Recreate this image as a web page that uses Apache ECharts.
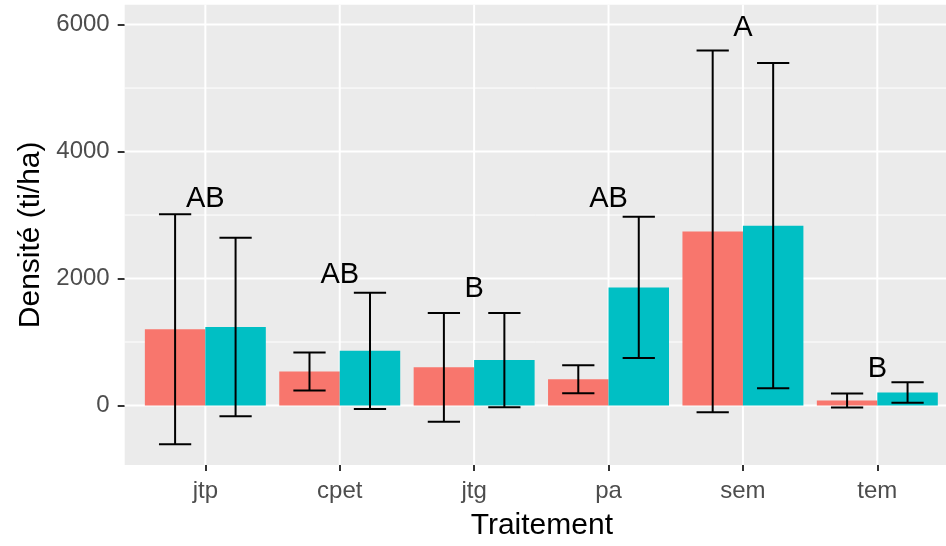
<!DOCTYPE html>
<html>
<head>
<meta charset="utf-8">
<script src="https://cdn.jsdelivr.net/npm/echarts@6/dist/echarts.min.js"></script>
<style>
  html, body { margin: 0; padding: 0; background: #ffffff; }
  #chart { width: 946px; height: 546px; }
</style>
</head>
<body>
<div id="chart"></div>
<script>
// Treatments on the x axis
const categories = ['jtp', 'cpet', 'jtg', 'pa', 'sem', 'tem'];
// First group (salmon bars): mean density and standard deviation
const meanRed = [1200, 536, 601, 414, 2742, 80];
const sdRed = [1812, 300, 855, 219, 2849, 110];
// Second group (teal bars): mean density and standard deviation
const meanTeal = [1238, 861, 715, 1860, 2833, 205];
const sdTeal = [1406, 917, 741, 1112, 2560, 160];
// Significance letters and the height at which they sit
const letters = ['AB', 'AB', 'B', 'AB', 'A', 'B'];
const letterY = [3253, 2060, 1841, 3253, 5953, 581];
// Y tick labels and grid positions
const yTicks = [0, 2000, 4000, 6000];
const yMinor = [1000, 3000, 5000];

// the panel is cut at the right edge of the page, partway through its margin
const X_MIN = -0.6, X_MAX = 5.511;
const Y_MIN = -937, Y_MAX = 6313;
const DODGE = 0.225, CAP = 0.12;
const FONT = "'Liberation Sans', Arial, Helvetica, sans-serif";
const RED = '#F8766D', TEAL = '#00BFC4';

function barRender(offset, color) {
  return function (params, api) {
    const x = api.value(0) + offset;
    const v = api.value(1);
    const a = api.coord([x - DODGE, v]);
    const b = api.coord([x + DODGE, 0]);
    return {
      type: 'rect',
      shape: { x: a[0], y: Math.min(a[1], b[1]), width: b[0] - a[0], height: Math.abs(b[1] - a[1]) },
      style: { fill: color }
    };
  };
}

function errRender(offset) {
  return function (params, api) {
    const x = api.value(0) + offset;
    const m = api.value(1), s = api.value(2);
    const top = api.coord([x, m + s]);
    const bot = api.coord([x, m - s]);
    const tl = api.coord([x - CAP, m + s]), tr = api.coord([x + CAP, m + s]);
    const bl = api.coord([x - CAP, m - s]), br = api.coord([x + CAP, m - s]);
    const st = { stroke: '#000000', lineWidth: 2 };
    return {
      type: 'group',
      children: [
        { type: 'line', shape: { x1: top[0], y1: top[1], x2: bot[0], y2: bot[1] }, style: st },
        { type: 'line', shape: { x1: tl[0], y1: tl[1], x2: tr[0], y2: tr[1] }, style: st },
        { type: 'line', shape: { x1: bl[0], y1: bl[1], x2: br[0], y2: br[1] }, style: st }
      ]
    };
  };
}

const chart = echarts.init(document.getElementById('chart'), null, { renderer: 'canvas' });

const option = {
  animation: false,
  grid: {
    left: 124.7, top: 4.7, right: 0, bottom: 77.7,
    show: true, backgroundColor: '#EBEBEB', borderWidth: 0
  },
  xAxis: {
    type: 'value',
    min: X_MIN, max: X_MAX,
    name: 'Traitement',
    nameLocation: 'middle',
    nameGap: 46,
    nameTextStyle: { fontFamily: FONT, fontSize: 30, color: '#000000', padding: [0, 0, 0, 13] },
    axisLine: { show: false, onZero: false },
    axisTick: { show: true, length: 6, customValues: categories.map((c, i) => i),
                lineStyle: { color: '#333333', width: 2 } },
    axisLabel: { show: true, customValues: categories.map((c, i) => i),
                 formatter: v => categories[Math.round(v)],
                 margin: 14, fontFamily: FONT, fontSize: 24, color: '#4D4D4D' },
    splitLine: { show: false }
  },
  yAxis: {
    type: 'value',
    min: Y_MIN, max: Y_MAX,
    name: 'Densité (ti/ha)',
    nameLocation: 'middle',
    nameGap: 79,
    nameTextStyle: { fontFamily: FONT, fontSize: 30, color: '#000000' },
    axisLine: { show: false, onZero: false },
    axisTick: { show: true, length: 7, customValues: yTicks,
                lineStyle: { color: '#333333', width: 2 } },
    axisLabel: { show: true, customValues: yTicks, margin: 15,
                 formatter: v => String(v),
                 fontFamily: FONT, fontSize: 24, color: '#4D4D4D' },
    splitLine: { show: false }
  },
  series: [
    {
      // horizontal panel grid lines
      type: 'custom', z: 1, silent: true,
      data: yTicks.map(v => [0, v, 1]).concat(yMinor.map(v => [0, v, 0])),
      encode: { x: 0, y: 1 },
      renderItem: (params, api) => {
        const v = api.value(1);
        const a = api.coord([X_MIN, v]), b = api.coord([X_MAX, v]);
        return { type: 'line', shape: { x1: a[0], y1: a[1], x2: b[0], y2: b[1] },
                 style: { stroke: '#FFFFFF', lineWidth: api.value(2) ? 2 : 1 } };
      }
    },
    {
      // vertical panel grid lines at each treatment
      type: 'custom', z: 1, silent: true,
      data: categories.map((c, i) => [i, 0]),
      encode: { x: 0, y: 1 },
      renderItem: (params, api) => {
        const x = api.value(0);
        const a = api.coord([x, Y_MIN]), b = api.coord([x, Y_MAX]);
        return { type: 'line', shape: { x1: a[0], y1: a[1], x2: b[0], y2: b[1] },
                 style: { stroke: '#FFFFFF', lineWidth: 2 } };
      }
    },
    {
      type: 'custom', z: 2, silent: true,
      data: categories.map((c, i) => [i, meanRed[i], sdRed[i]]),
      encode: { x: 0, y: 1 },
      renderItem: barRender(-DODGE, RED)
    },
    {
      type: 'custom', z: 2, silent: true,
      data: categories.map((c, i) => [i, meanTeal[i], sdTeal[i]]),
      encode: { x: 0, y: 1 },
      renderItem: barRender(DODGE, TEAL)
    },
    {
      type: 'custom', z: 3, silent: true,
      data: categories.map((c, i) => [i, meanRed[i], sdRed[i]]),
      encode: { x: 0, y: 1 },
      renderItem: errRender(-DODGE)
    },
    {
      type: 'custom', z: 3, silent: true,
      data: categories.map((c, i) => [i, meanTeal[i], sdTeal[i]]),
      encode: { x: 0, y: 1 },
      renderItem: errRender(DODGE)
    },
    {
      // significance letters
      type: 'custom', z: 4, silent: true,
      data: categories.map((c, i) => [i, letterY[i]]),
      encode: { x: 0, y: 1 },
      renderItem: (params, api) => {
        const p = api.coord([api.value(0), api.value(1)]);
        return { type: 'text', x: p[0], y: p[1],
                 style: { text: letters[params.dataIndex], fontFamily: FONT, fontSize: 29,
                          fill: '#000000', align: 'center', verticalAlign: 'middle' } };
      }
    }
  ]
};

chart.setOption(option);
</script>
</body>
</html>
